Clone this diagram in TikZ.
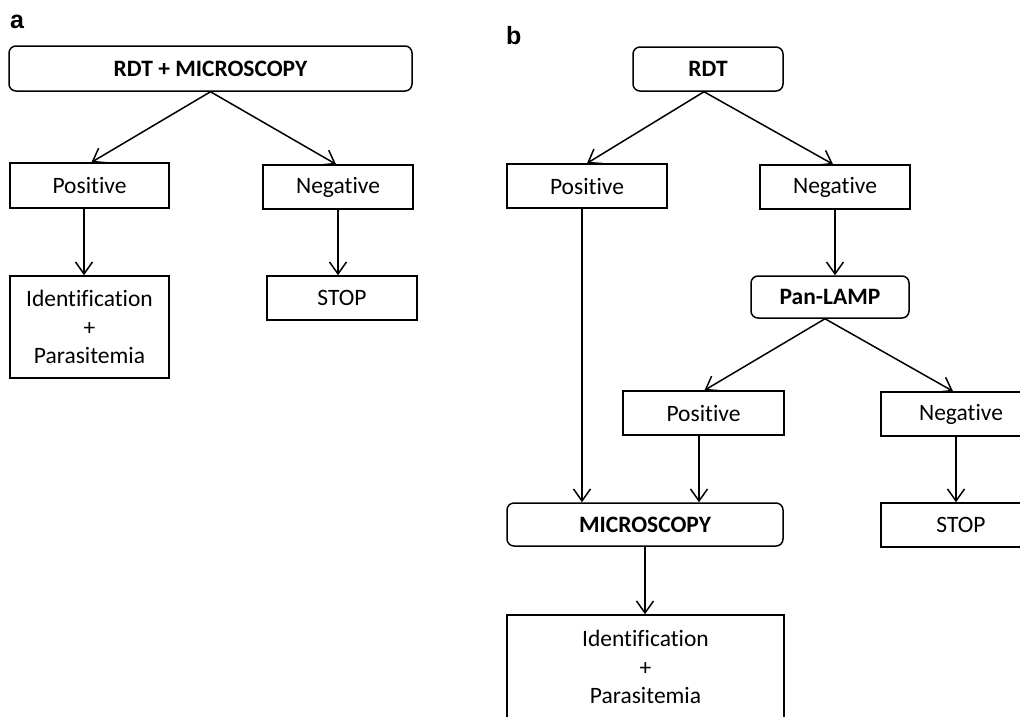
\documentclass[tikz,border=0pt]{standalone}
\usepackage{fontspec}
\setmainfont[Ligatures={NoCommon,NoContextual}]{Carlito}
\newfontfamily\labelfont{Liberation Sans}
\usetikzlibrary{arrows.meta}
\tikzset{
  box/.style={draw=black, line width=1.5pt, inner sep=0pt, font=\fontsize{23.5}{28.5}\selectfont, align=center, anchor=center},
  rbox/.style={box, rounded corners=7pt, font=\fontsize{23.5}{28.5}\selectfont\bfseries},
  arr/.style={line width=1.5pt, -{Straight Barb[length=12pt,width=17pt,line width=1.5pt]}},
  panel/.style={font=\fontsize{25}{25}\selectfont\labelfont\bfseries, inner sep=0pt, anchor=base west}
}
\begin{document}
\begin{tikzpicture}[x=1pt,y=-1pt]
\useasboundingbox (0,0) rectangle (1020,716);
\clip (0,0) rectangle (1020,716);
% panel a
\node[panel] (la) at (10,28) {a};
\node[rbox, minimum width=403pt, minimum height=45pt] (rdta) at (210.5,68.5) {RDT + MICROSCOPY};
\node[box, minimum width=159pt, minimum height=45pt] (posa) at (89.5,185.5) {Positive};
\node[box, minimum width=150pt, minimum height=44pt] (nega) at (338,187) {Negative};
\node[box, minimum width=159pt, minimum height=102pt] (ida) at (89.5,327) {Identification\\+\\Parasitemia};
\node[box, minimum width=150pt, minimum height=44pt] (stopa) at (342,298) {STOP};
\draw[arr] (rdta.south) -- ([xshift=2pt]posa.north);
\draw[arr] (rdta.south) -- ([xshift=-2pt]nega.north);
\draw[arr] ([xshift=-5.5pt]posa.south) -- ([xshift=-5.5pt]posa.south |- ida.north);
\draw[arr] (nega.south) -- (nega.south |- stopa.north);
% panel b
\node[panel] (lb) at (506,44) {b};
\node[rbox, minimum width=150pt, minimum height=44pt] (rdtb) at (708,69) {RDT};
\node[box, minimum width=160pt, minimum height=44pt] (posb) at (587,186) {Positive};
\node[box, minimum width=150pt, minimum height=44pt] (negb) at (835,187) {Negative};
\node[rbox, minimum width=158pt, minimum height=42pt] (pan) at (830,297) {Pan-LAMP};
\node[box, minimum width=161pt, minimum height=44pt] (posb2) at (703.5,413) {Positive};
\node[box, minimum width=160pt, minimum height=44pt] (negb2) at (961,414) {Negative};
\node[rbox, minimum width=276pt, minimum height=43pt] (micro) at (645,524.5) {MICROSCOPY};
\node[box, minimum width=160pt, minimum height=44pt] (stopb) at (961,525) {STOP};
\node[box, minimum width=277pt, minimum height=104pt] (idb) at (645.5,667) {Identification\\+\\Parasitemia};
\draw[arr] ([xshift=-4pt]rdtb.south) -- (posb.north);
\draw[arr] ([xshift=-4pt]rdtb.south) -- ([xshift=-2pt]negb.north);
\draw[arr] (negb.south) -- (negb.south |- pan.north);
\draw[arr] ([xshift=-5pt]pan.south) -- ([xshift=1pt]posb2.north);
\draw[arr] ([xshift=-5pt]pan.south) -- ([xshift=-8pt]negb2.north);
\draw[arr] ([xshift=-5pt]posb.south) -- ([xshift=-5pt]posb.south |- micro.north);
\draw[arr] ([xshift=-4.5pt]posb2.south) -- ([xshift=-4.5pt]posb2.south |- micro.north);
\draw[arr] ([xshift=-5pt]negb2.south) -- ([xshift=-5pt]negb2.south |- stopb.north);
\draw[arr] (micro.south) -- (micro.south |- idb.north);
\end{tikzpicture}
\end{document}
